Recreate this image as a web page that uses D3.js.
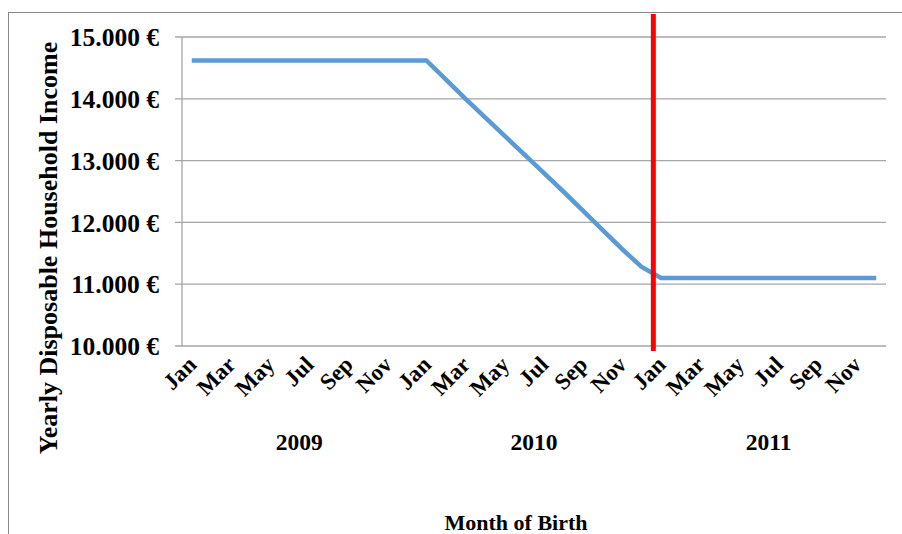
<!DOCTYPE html>
<html>
<head>
<meta charset="utf-8">
<script src="https://cdn.jsdelivr.net/npm/d3@7"></script>
<style>
  html, body { margin: 0; padding: 0; background: #fff; }
  svg { display: block; }
  text { font-family: "Liberation Serif", "Times New Roman", serif; font-weight: bold; fill: #000; }
</style>
</head>
<body>
<svg id="chart" width="902" height="534"></svg>
<script>
// ---- data ----
const years = ["2009", "2010", "2011"];
const monthNames = ["Jan","Feb","Mar","Apr","May","Jun","Jul","Aug","Sep","Oct","Nov","Dec"];
const values2009 = [14620,14620,14620,14620,14620,14620,14620,14620,14620,14620,14620,14620];
const values2010 = [14620,14310,14000,13700,13400,13100,12800,12500,12190,11880,11570,11280];
const values2011 = [11100,11100,11100,11100,11100,11100,11100,11100,11100,11100,11100,11100];
const yTicks = [10000, 11000, 12000, 13000, 14000, 15000];
const yTickLabels = ["10.000 €","11.000 €","12.000 €","13.000 €","14.000 €","15.000 €"];
const cutoffIndex = 24; // reform between Dec 2010 and Jan 2011
const yTitle = "Yearly Disposable Household Income";
const xTitle = "Month of Birth";

// ---- build ----
const allValues = [values2009, values2010, values2011];
const categories = [];
years.forEach((yr, yi) => monthNames.forEach((m, mi) => {
  categories.push({ i: yi * 12 + mi, year: yr, month: m, value: allValues[yi][mi] });
}));

const svg = d3.select("#chart");
const plot = { left: 182, right: 886, top: 37, bottom: 346 };

const x = d3.scaleBand().domain(categories.map(d => d.i)).range([plot.left, plot.right]);
const y = d3.scaleLinear().domain([10000, 15000]).range([plot.bottom, plot.top]);
const bw = x.bandwidth();

// outer border
svg.append("rect").attr("x", 8.5).attr("y", 12.5).attr("width", 905).attr("height", 540)
  .attr("fill", "none").attr("stroke", "#888").attr("stroke-width", 1);

// gridlines + left ticks
svg.append("g").selectAll("line").data(yTicks).join("line")
  .attr("x1", plot.left - 7).attr("x2", plot.right)
  .attr("y1", d => y(d)).attr("y2", d => y(d))
  .attr("stroke", "#a6a6a6").attr("stroke-width", 1.3);

// y axis line
svg.append("line").attr("x1", plot.left).attr("x2", plot.left)
  .attr("y1", plot.top).attr("y2", plot.bottom)
  .attr("stroke", "#a6a6a6").attr("stroke-width", 1.3);

// y tick labels
svg.append("g").selectAll("text").data(yTicks).join("text")
  .attr("x", 159).attr("y", d => y(d)).attr("dy", "0.36em")
  .attr("text-anchor", "end").style("font-size", "25.5px")
  .text((d, i) => yTickLabels[i]);

// month labels
svg.append("g").selectAll("text").data(categories.filter(d => d.i % 2 === 0)).join("text")
  .attr("transform", d => `translate(${x(d.i) + bw / 2 + 6},${366}) rotate(-45)`)
  .attr("text-anchor", "end").style("font-size", "23px")
  .text(d => d.month);

// year labels
svg.append("g").selectAll("text").data(years).join("text")
  .attr("x", (d, i) => (x(i * 12) + x(i * 12 + 11) + bw) / 2)
  .attr("y", 450).attr("text-anchor", "middle").style("font-size", "23.5px")
  .text(d => d);

// line
const line = d3.line().x(d => x(d.i) + bw / 2).y(d => y(d.value));
svg.append("path").datum(categories).attr("d", line)
  .attr("fill", "none").attr("stroke", "#5b9bd5").attr("stroke-width", 4.5)
  .attr("stroke-linejoin", "round").attr("stroke-linecap", "butt");

// cutoff red line
svg.append("line")
  .attr("x1", x(cutoffIndex) + 2).attr("x2", x(cutoffIndex) + 2)
  .attr("y1", 14).attr("y2", 351)
  .attr("stroke", "#ff0000").attr("stroke-width", 5);

// axis titles
svg.append("text").attr("transform", "translate(57,248) rotate(-90)")
  .attr("text-anchor", "middle").style("font-size", "26px").text(yTitle);
svg.append("text").attr("x", 516).attr("y", 530)
  .attr("text-anchor", "middle").style("font-size", "22px").text(xTitle);
</script>
</body>
</html>
